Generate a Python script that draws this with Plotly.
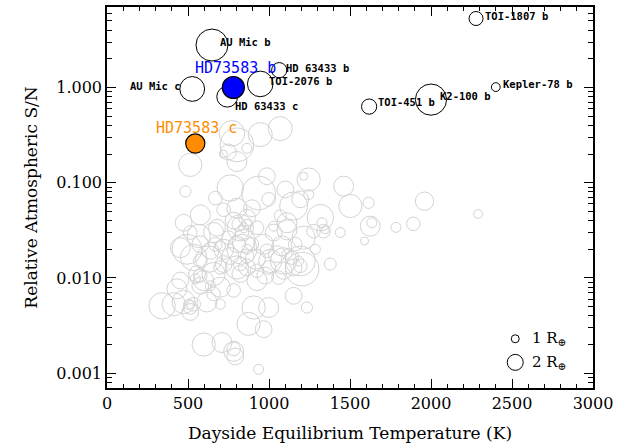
import math
import plotly.graph_objects as go

# ---------------------------------------------------------------------------
# Background population: dayside equilibrium temperature (K), relative
# atmospheric S/N and planet radius (Earth radii)
# ---------------------------------------------------------------------------
gray_T = [514, 802, 484, 987, 761, 936, 1101, 1245, 1214, 1461,
          669, 998, 1152, 1193, 1245, 1317, 1502, 1615, 1625, 1635,
          1590, 1784, 473, 576, 720, 802, 895, 1070, 1111, 1327,
          1337, 1347, 1440, 494, 566, 658, 823, 844, 833, 926,
          1029, 967, 1080, 1162, 1214, 1275, 1286, 535, 628, 720,
          761, 802, 864, 916, 1008, 1090, 1193, 1204, 1142, 1378,
          597, 576, 658, 700, 823, 782, 926, 977, 1059, 432,
          340, 473, 514, 617, 658, 700, 905, 998, 874, 967,
          1152, 1234, 597, 710, 782, 792, 782, 936, 782, 833,
          802, 864, 823, 576, 453, 638, 720, 556, 535, 412,
          1049, 987, 1111, 1152, 864, 679, 514, 453, 700, 926,
          1960, 2291, 1891, 771, 802, 864, 946, 1069, 718, 749,
          545, 576, 504, 514, 638, 844, 813, 864, 1029, 1111,
          1183, 1193, 998, 1090, 751, 700, 669, 576, 864, 895]
gray_S = [0.154, 0.167, 0.081, 0.117, 0.088, 0.078, 0.085, 0.108, 0.117, 0.092,
          0.069, 0.067, 0.057, 0.067, 0.075, 0.043, 0.057, 0.0615, 0.035, 0.038,
          0.0245, 0.034, 0.038, 0.046, 0.052, 0.054, 0.054, 0.045, 0.032, 0.038,
          0.031, 0.032, 0.030, 0.020, 0.0276, 0.030, 0.0337, 0.0245, 0.020, 0.0337,
          0.030, 0.0226, 0.0217, 0.0226, 0.0265, 0.031, 0.020, 0.0164, 0.0158, 0.020,
          0.017, 0.0129, 0.0129, 0.0158, 0.0151, 0.0151, 0.0151, 0.0124, 0.0164, 0.014,
          0.0094, 0.0083, 0.011, 0.008, 0.011, 0.0074, 0.0094, 0.0106, 0.0101, 0.0077,
          0.0051, 0.0056, 0.0044, 0.0056, 0.0068, 0.0053, 0.0049, 0.0049, 0.0033, 0.0029,
          0.0065, 0.0049, 0.0020, 0.0021, 0.0017, 0.0015, 0.0018, 0.0011, 0.040, 0.030,
          0.0226, 0.017, 0.014, 0.0226, 0.0208, 0.0193, 0.014, 0.011, 0.0053, 0.0053,
          0.0178, 0.0193, 0.038, 0.0129, 0.043, 0.0337, 0.030, 0.0094, 0.0129, 0.0119,
          0.064, 0.047, 0.037, 0.33, 0.25, 0.23, 0.32, 0.37, 0.20, 0.21,
          0.0098, 0.0106, 0.0053, 0.0049, 0.0083, 0.0337, 0.0366, 0.0366, 0.035, 0.0178,
          0.0151, 0.0134, 0.0129, 0.0119, 0.0265, 0.0217, 0.0226, 0.0151, 0.020, 0.0226]
gray_R = [2.9, 2.5, 1.4, 2.1, 3.3, 4.2, 2.1, 2.9, 1.0, 2.5,
          1.7, 1.7, 3.5, 2.1, 1.25, 3.3, 2.9, 1.4, 2.5, 1.25,
          1.0, 1.25, 2.1, 2.5, 1.7, 2.5, 2.1, 1.5, 2.5, 1.25,
          1.7, 1.0, 1.25, 3.75, 2.9, 2.5, 3.3, 2.9, 3.75, 1.7,
          2.1, 2.5, 2.5, 1.7, 2.9, 1.7, 1.25, 3.3, 3.3, 2.5,
          2.1, 2.9, 2.1, 2.5, 2.9, 3.3, 3.75, 4.2, 1.7, 1.5,
          2.5, 2.1, 2.9, 2.5, 2.1, 1.7, 2.5, 2.1, 1.7, 2.5,
          3.3, 2.9, 2.1, 2.5, 1.7, 1.25, 2.9, 2.5, 2.9, 2.1,
          2.1, 1.4, 2.9, 2.5, 2.5, 2.1, 1.7, 1.25, 2.1, 1.7,
          2.1, 1.7, 1.7, 2.1, 2.5, 2.1, 2.1, 2.1, 1.7, 2.9,
          2.1, 1.7, 2.5, 2.1, 2.1, 2.1, 1.7, 2.1, 1.7, 1.7,
          2.3, 1.1, 1.7, 3.2, 4.2, 1.25, 3.0, 3.0, 1.0, 2.0,
          1.25, 1.7, 1.25, 1.7, 1.25, 1.25, 1.7, 1.25, 1.25, 1.25,
          1.25, 1.7, 1.7, 2.1, 1.7, 1.25, 1.7, 1.7, 1.25, 1.7]

# Named comparison planets
named_planets = ["AU Mic b", "AU Mic c", "HD 63433 c", "TOI-2076 b", "HD 63433 b",
                 "TOI-1807 b", "Kepler-78 b", "K2-100 b", "TOI-451 b"]
named_T = [648, 526, 742, 946, 1063, 2278, 2400, 2000, 1618]
named_S = [2.79, 0.965, 0.80, 1.09, 1.52, 5.3, 1.01, 0.746, 0.63]
named_R = [4.0, 3.1, 2.6, 3.2, 1.9, 1.75, 1.1, 3.9, 1.9]

# The HD 73583 system
hd_planets = ["HD73583 b", "HD73583 c"]
hd_T = [780, 545]
hd_S = [1.0, 0.258]
hd_R = [2.75, 2.4]

# Size key
key_R = [1, 2]
key_T = [2520, 2520]
key_S = [0.0023, 0.0013]

x_ticks = [0, 500, 1000, 1500, 2000, 2500, 3000]
y_ticks = [0.001, 0.01, 0.1, 1.0]
y_ticktext = ["0.001", "0.010", "0.100", "1.000"]

# ---------------------------------------------------------------------------
PX_PER_REARTH = 8.0
SERIF = "DejaVu Serif"
MONO = "DejaVu Sans Mono"
hd_colors = ["#0000ff", "#ff8c00"]


def sizes(radii):
    return [PX_PER_REARTH * r for r in radii]


fig = go.Figure()

fig.add_trace(go.Scatter(
    x=gray_T, y=gray_S, mode="markers",
    marker=dict(symbol="circle-open", size=sizes(gray_R), color="#d3d3d3",
                opacity=1, line=dict(width=1, color="#d3d3d3")),
    hoverinfo="skip", showlegend=False))

fig.add_trace(go.Scatter(
    x=named_T, y=named_S, mode="markers",
    marker=dict(symbol="circle-open", size=sizes(named_R), color="black",
                opacity=1, line=dict(width=1, color="black")),
    hoverinfo="skip", showlegend=False))

fig.add_trace(go.Scatter(
    x=hd_T, y=hd_S, mode="markers",
    marker=dict(symbol="circle", size=sizes(hd_R), color=hd_colors,
                opacity=1, line=dict(width=1.2, color="black")),
    hoverinfo="skip", showlegend=False))

fig.add_trace(go.Scatter(
    x=key_T, y=key_S, mode="markers",
    marker=dict(symbol="circle-open", size=sizes(key_R), color="black",
                opacity=1, line=dict(width=1, color="black")),
    hoverinfo="skip", showlegend=False))

# label placement: (anchor, x shift px, y shift px)
label_place = {
    "AU Mic b": ("left", 6, 3),
    "AU Mic c": ("right", -9, 3),
    "HD 63433 c": ("left", 6, -9),
    "TOI-2076 b": ("left", 7, 3),
    "HD 63433 b": ("left", 5, 2),
    "TOI-1807 b": ("left", 7, 3),
    "Kepler-78 b": ("left", 5, 3),
    "K2-100 b": ("left", 7, 4),
    "TOI-451 b": ("left", 7, 5),
}
annotations = []
for name, t, s in zip(named_planets, named_T, named_S):
    anchor, dx, dy = label_place[name]
    annotations.append(dict(
        x=t, y=math.log10(s), xref="x", yref="y", yanchor="middle", xanchor=anchor,
        text=f"<b>{name}</b>", showarrow=False, xshift=dx, yshift=dy,
        font=dict(family=MONO, size=10.5, color="black")))

hd_shift = [(2, 19), (1, 16)]
for name, t, s, c, (dx, dy) in zip(hd_planets, hd_T, hd_S, hd_colors, hd_shift):
    annotations.append(dict(
        x=t, y=math.log10(s), xref="x", yref="y", xanchor="center", yanchor="middle",
        text=name, showarrow=False, xshift=dx, yshift=dy,
        font=dict(family=MONO, size=15, color=c)))

for r, t, s in zip(key_R, key_T, key_S):
    annotations.append(dict(
        x=t, y=math.log10(s), xref="x", yref="y", xanchor="left", yanchor="middle",
        text=f"{r} R<sub>⊕</sub>", showarrow=False, xshift=15, yshift=0,
        font=dict(family=SERIF, size=15, color="black")))

axis_common = dict(
    showline=True, linecolor="black", linewidth=1.5, mirror="allticks",
    ticks="inside", ticklen=9, tickwidth=1, tickcolor="black",
    showgrid=False, zeroline=False,
    tickfont=dict(family=SERIF, size=16, color="black"),
)

fig.update_layout(
    width=643, height=448,
    margin=dict(l=107, r=50, t=5, b=60),
    paper_bgcolor="white", plot_bgcolor="white",
    annotations=annotations,
    xaxis=dict(
        range=[0, 3000], tickvals=x_ticks,
        minor=dict(ticks="inside", ticklen=4, dtick=100, tickcolor="black", showgrid=False),
        title=dict(text="Dayside Equilibrium Temperature (K)",
                   font=dict(family=SERIF, size=17, color="black"), standoff=15),
        **axis_common),
    yaxis=dict(
        type="log", range=[-3.155, 0.845],
        tickvals=y_ticks, ticktext=y_ticktext,
        minor=dict(ticks="inside", ticklen=5, dtick="D1", tickcolor="black", showgrid=False),
        title=dict(text="Relative Atmospheric S/N",
                   font=dict(family=SERIF, size=17, color="black"), standoff=14),
        **axis_common),
)

fig.write_html("out.html", config=dict(displayModeBar=False))
